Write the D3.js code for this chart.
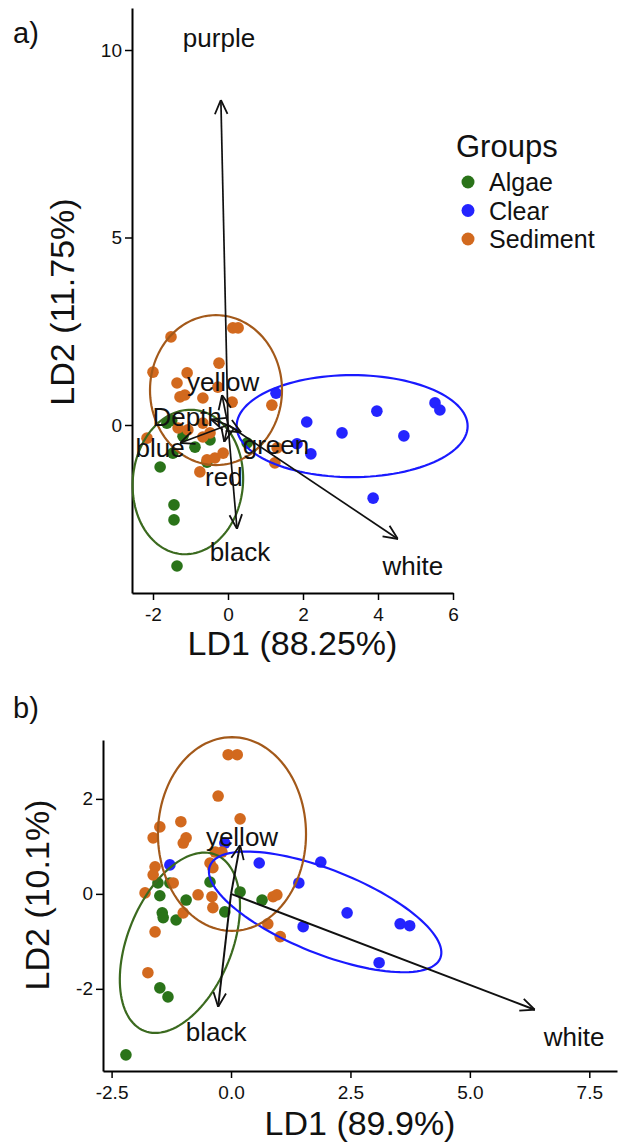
<!DOCTYPE html>
<html>
<head>
<meta charset="utf-8">
<script src="https://cdn.jsdelivr.net/npm/d3@7"></script>
<style>
    body { margin: 0; background: #fff; }
    text { font-family: "Liberation Sans", Arial, sans-serif; fill: #111; }
</style>
</head>
<body>
<div id="graph"></div>
<script>
// ---- data ----
const groups = ["Algae", "Clear", "Sediment"];

// panel a
const algaeA = [[-1.63, 0.05], [-1.5, 0.12], [-0.48, -0.4], [-0.88, -0.59], [-1.47, -0.75], [-1.81, -1.12],
    [-0.56, -0.99], [-1.44, -2.13], [-1.44, -2.53], [-1.36, -3.76], [0.51, -0.48], [-1.2, -0.3]];
const clearA = [[1.28, 0.85], [2.1, 0.08], [3.97, 0.37], [5.52, 0.59], [5.65, 0.4], [3.04, -0.21],
    [4.69, -0.29], [2.21, -0.77], [3.87, -1.95], [1.84, -0.5]];
const sedimentA = [[0.13, 2.59], [0.27, 2.59], [-1.52, 2.35], [-0.24, 1.65], [-2.0, 1.41], [-1.09, 1.39],
    [-1.36, 1.12], [-1.28, 0.75], [-1.15, 0.8], [-0.67, 0.72], [-0.27, 1.01], [0.11, 0.61], [1.17, 0.53],
    [-1.33, -0.08], [-1.07, -0.13], [-0.48, -0.21], [-0.67, -0.32], [1.31, -0.61], [1.25, -1.01],
    [-0.75, -1.25], [-0.56, -0.93], [-0.35, -0.88], [-0.13, -0.75], [-2.16, -0.35], [-0.67, 0.05]];

// panel b
const algaeB = [[-1.53, 0.23], [-1.28, 0.23], [-0.44, 0.25], [-1.49, -0.04], [-0.94, -0.13], [0.19, 0.04],
    [0.65, -0.13], [-1.44, -0.4], [-0.13, -0.38], [-1.42, -0.5], [-1.15, -0.55], [-1.49, -1.98],
    [-1.32, -2.17], [-2.2, -3.39]];
const clearB = [[-0.13, 1.07], [-1.28, 0.61], [0.59, 0.65], [1.88, 0.67], [1.42, 0.23], [2.43, -0.4],
    [1.51, -0.69], [3.54, -0.63], [3.74, -0.67], [3.1, -1.45]];
const sedimentB = [[-0.06, 2.93], [0.13, 2.93], [-0.27, 2.06], [0.19, 1.58], [-1.05, 1.52], [-1.49, 1.41],
    [-1.63, 1.18], [-0.94, 1.18], [-1.0, 1.07], [-0.33, 0.88], [-0.19, 0.88], [-0.44, 0.65], [-0.38, 0.55],
    [-1.59, 0.57], [-1.63, 0.4], [-1.21, 0.23], [-1.8, 0.02], [-0.69, -0.02], [-0.4, -0.06], [0.88, -0.06],
    [0.96, -0.02], [-0.38, -0.29], [-1.0, -0.4], [-1.59, -0.8], [0.77, -0.63], [1.03, -0.9], [-1.74, -1.66]];

// ellipses: [cx, cy, semi-major, semi-minor, angle in degrees]
const ellipsesA = [[-1.07, -1.52, 1.93, 1.47, 85], [3.31, -0.03, 3.08, 1.36, 0], [-0.32, 0.93, 2.0, 1.76, 90]];
const ellipsesB = [[-1.07, -1.03, 2.0, 1.09, 68], [1.97, -0.38, 2.6, 0.88, -22], [0.02, 1.26, 2.04, 1.55, 90]];

// arrows (from origin) and where their labels sit
const arrowNamesA = ["purple", "white", "black", "yellow", "Depth", "blue", "green", "red"];
const arrowTipsA = [[-0.19, 8.67], [4.53, -3.04], [0.24, -2.77], [-0.16, 0.8], [-0.45, 0.15],
    [-1.28, -0.48], [0.35, -0.2], [-0.1, -0.45]];
const labelPosA = [[-0.24, 10.32], [4.93, -3.76], [0.32, -3.39], [-0.13, 1.15], [-1.09, 0.21],
    [-1.81, -0.61], [1.28, -0.53], [-0.11, -1.39]];

const arrowNamesB = ["white", "black", "yellow"];
const arrowTipsB = [[6.36, -2.44], [-0.27, -2.38], [0.19, 1.03]];
const labelPosB = [[7.18, -3.01], [-0.31, -2.9], [0.23, 1.2]];

const xTicksA = [-2, 0, 2, 4, 6], yTicksA = [0, 5, 10];
const xTicksB = [-2.5, 0, 2.5, 5, 7.5], yTicksB = [-2, 0, 2];

const pointColors = ["#2a7319", "#2424ff", "#d2691e"];
const ellipseColors = ["#3b6a1f", "#1a1aff", "#a3591a"];

const svg = d3.select("#graph").append("svg")
    .attr("width", 621)
    .attr("height", 1144);

svg.append("defs").append("marker")
    .attr("id", "head")
    .attr("viewBox", "0 0 10 10")
    .attr("refX", 10)
    .attr("refY", 5)
    .attr("markerUnits", "userSpaceOnUse")
    .attr("markerWidth", 15)
    .attr("markerHeight", 15)
    .attr("orient", "auto")
    .append("path")
    .attr("d", "M0.5,0.8 L10,5 L0.5,9.2")
    .attr("fill", "none")
    .attr("stroke", "#111")
    .attr("stroke-width", 1.2);

// plain hyphen minus like the original
function fmt(digits) {
    return d => d.toFixed(digits);
}

function drawPanel(p) {
    var x = d3.scaleLinear().domain(p.xDomain).range(p.xRange);
    var y = d3.scaleLinear().domain(p.yDomain).range(p.yRange);
    var g = svg.append("g");

    // axes
    g.append("g")
        .attr("transform", "translate(0," + p.yRange[0] + ")")
        .call(d3.axisBottom(x).tickValues(p.xTicks).tickSize(7).tickSizeOuter(0).tickFormat(p.xFormat))
        .call(a => a.select(".domain").attr("stroke-width", 2))
        .call(a => a.selectAll(".tick line").attr("stroke-width", 1.5))
        .call(a => a.selectAll(".tick text").attr("font-size", 19).attr("fill", "#222")
            .attr("font-family", "Liberation Sans, Arial, sans-serif").attr("dy", "0.95em"));

    g.append("g")
        .attr("transform", "translate(" + p.xRange[0] + ",0)")
        .call(d3.axisLeft(y).tickValues(p.yTicks).tickSize(7).tickSizeOuter(0).tickFormat(fmt(0)))
        .call(a => a.select(".domain").attr("stroke-width", 2))
        .call(a => a.selectAll(".tick line").attr("stroke-width", 1.5))
        .call(a => a.selectAll(".tick text").attr("font-size", 19).attr("fill", "#222")
            .attr("font-family", "Liberation Sans, Arial, sans-serif").attr("x", -10));

    // points
    p.series.forEach(function (s, i) {
        g.append("g").selectAll("circle")
            .data(s)
            .enter()
            .append("circle")
            .attr("cx", d => x(d[0]))
            .attr("cy", d => y(d[1]))
            .attr("r", 5.8)
            .attr("fill", pointColors[i]);
    });

    // ellipses
    var line = d3.line().x(d => x(d[0])).y(d => y(d[1])).curve(d3.curveLinearClosed);
    p.ellipses.forEach(function (e, i) {
        var th = e[4] * Math.PI / 180;
        var pts = d3.range(0, 120).map(function (k) {
            var t = k / 120 * 2 * Math.PI;
            return [e[0] + e[2] * Math.cos(t) * Math.cos(th) - e[3] * Math.sin(t) * Math.sin(th),
                e[1] + e[2] * Math.cos(t) * Math.sin(th) + e[3] * Math.sin(t) * Math.cos(th)];
        });
        g.append("path")
            .attr("d", line(pts))
            .attr("fill", "none")
            .attr("stroke", ellipseColors[i])
            .attr("stroke-width", 2.2);
    });

    // arrows
    g.append("g").selectAll("line")
        .data(p.tips)
        .enter()
        .append("line")
        .attr("x1", x(0))
        .attr("y1", y(0))
        .attr("x2", d => x(d[0]))
        .attr("y2", d => y(d[1]))
        .attr("stroke", "#111")
        .attr("stroke-width", p.arrowWidth)
        .attr("marker-end", "url(#head)");

    g.append("g").selectAll("text")
        .data(p.names)
        .enter()
        .append("text")
        .attr("x", (d, i) => x(p.labels[i][0]))
        .attr("y", (d, i) => y(p.labels[i][1]))
        .attr("dy", "0.35em")
        .attr("text-anchor", "middle")
        .attr("font-size", 26)
        .text(d => d);

    // titles
    g.append("text")
        .attr("x", (p.xRange[0] + p.xRange[1]) / 2)
        .attr("y", p.xTitleY)
        .attr("text-anchor", "middle")
        .attr("font-size", 34)
        .text(p.xTitle);

    g.append("text")
        .attr("transform", "translate(" + p.yTitleX + "," + p.yTitleCenter + ") rotate(-90)")
        .attr("text-anchor", "middle")
        .attr("font-size", 34)
        .text(p.yTitle);

    g.append("text")
        .attr("x", 13)
        .attr("y", p.tagY)
        .attr("font-size", 29)
        .text(p.tag);
}

drawPanel({
    xDomain: [-2.56, 6], xRange: [132, 453],
    yDomain: [-4.48, 11.12], yRange: [593, 8],
    xTicks: xTicksA, yTicks: yTicksA, xFormat: fmt(0),
    series: [algaeA, clearA, sedimentA], ellipses: ellipsesA,
    names: arrowNamesA, tips: arrowTipsA, labels: labelPosA, arrowWidth: 1.7,
    xTitle: "LD1 (88.25%)", xTitleY: 655,
    yTitle: "LD2 (11.75%)", yTitleX: 74, yTitleCenter: 302,
    tag: "a)", tagY: 43
});

drawPanel({
    xDomain: [-2.68, 8.08], xRange: [103, 617],
    yDomain: [-3.73, 3.24], yRange: [1071, 740],
    xTicks: xTicksB, yTicks: yTicksB, xFormat: fmt(1),
    series: [algaeB, clearB, sedimentB], ellipses: ellipsesB,
    names: arrowNamesB, tips: arrowTipsB, labels: labelPosB, arrowWidth: 2,
    xTitle: "LD1 (89.9%)", xTitleY: 1135,
    yTitle: "LD2 (10.1%)", yTitleX: 49, yTitleCenter: 895,
    tag: "b)", tagY: 718
});

// legend for panel a
var legend = svg.append("g");
legend.append("text")
    .attr("x", 456)
    .attr("y", 157)
    .attr("font-size", 31)
    .text("Groups");

var item = legend.selectAll("g.item")
    .data(groups)
    .enter()
    .append("g")
    .attr("class", "item")
    .attr("transform", (d, i) => "translate(0," + (i * 28.5) + ")");

item.append("circle")
    .attr("cx", 468)
    .attr("cy", 182)
    .attr("r", 6.5)
    .attr("fill", (d, i) => pointColors[i]);

item.append("text")
    .attr("x", 489)
    .attr("y", 191)
    .attr("font-size", 25)
    .text(d => d);
</script>
</body>
</html>
